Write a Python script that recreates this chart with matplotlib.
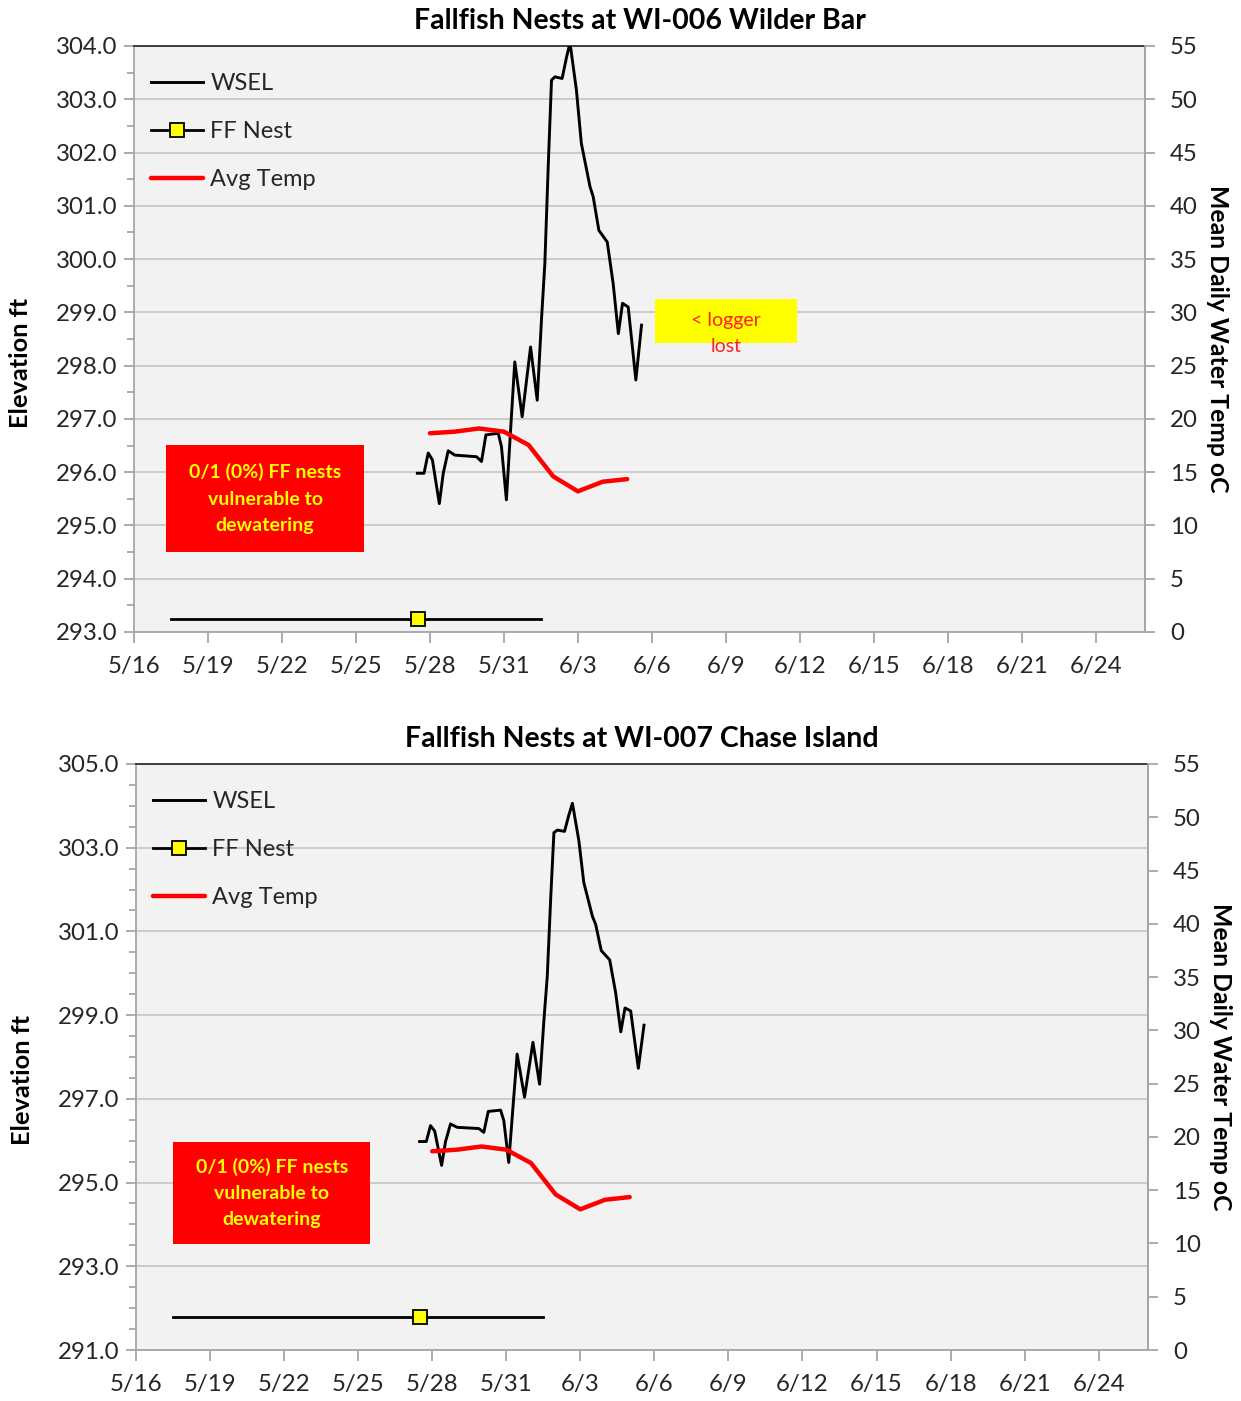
import matplotlib
matplotlib.use("Agg")
import matplotlib.pyplot as plt
from matplotlib.patches import Rectangle
from matplotlib.ticker import MultipleLocator, FormatStrFormatter

plt.rcParams['font.family'] = ['Lato', 'DejaVu Sans']

# x positions are days after 5/16
tick_days = [0, 3, 6, 9, 12, 15, 18, 21, 24, 27, 30, 33, 36, 39]
tick_labels = ["5/16", "5/19", "5/22", "5/25", "5/28", "5/31", "6/3",
               "6/6", "6/9", "6/12", "6/15", "6/18", "6/21", "6/24"]

# water surface elevation (ft)
wsel_day = [11.49, 11.76, 11.93, 12.10, 12.38, 12.54, 12.74, 13.01, 13.89,
            14.09, 14.27, 14.77, 14.90, 15.10, 15.27, 15.44, 15.74, 16.08,
            16.35, 16.53, 16.66, 16.80, 16.93, 17.07, 17.36, 17.54, 17.68,
            17.94, 18.14, 18.49, 18.62, 18.85, 19.19, 19.43, 19.64, 19.81,
            20.04, 20.35, 20.58]
wsel_ft = [295.98, 295.98, 296.36, 296.23, 295.41, 295.98, 296.40, 296.32,
           296.29, 296.20, 296.70, 296.73, 296.48, 295.48, 296.79, 298.07,
           297.04, 298.35, 297.35, 298.92, 299.92, 301.79, 303.36, 303.42,
           303.39, 303.79, 304.06, 303.17, 302.17, 301.36, 301.17, 300.54,
           300.32, 299.54, 298.60, 299.17, 299.10, 297.73, 298.76]

# mean daily water temperature (oC)
temp_day = [12, 13, 14, 15, 16, 17, 18, 19, 20]
temp_c = [18.65, 18.8, 19.1, 18.8, 17.55, 14.6, 13.2, 14.1, 14.35]

# fallfish nest period and elevation
nest_day = [1.5, 11.5, 16.5]
nest_elev_006 = 293.24
nest_elev_007 = 291.78

# left axis ticks per site
yticks_006 = [293.0, 294.0, 295.0, 296.0, 297.0, 298.0, 299.0, 300.0,
              301.0, 302.0, 303.0, 304.0]
yticks_007 = [291.0, 293.0, 295.0, 297.0, 299.0, 301.0, 303.0, 305.0]

box_text = "0/1 (0%) FF nests\nvulnerable to\ndewatering"

GRAY = "#a6a6a6"
TXT = "#262626"

fig = plt.figure(figsize=(12.41, 14.01), dpi=100)
ax1 = fig.add_axes([0.1080, 0.5489, 0.8147, 0.4183])
ax2 = fig.add_axes([0.1096, 0.0364, 0.8155, 0.4183])


def draw_panel(ax, title, yticks, nest_elev, red_box, label_y):
    ax.set_facecolor("#f2f2f2")
    ax.plot(wsel_day, wsel_ft, color="black", lw=2.1, label="WSEL", zorder=3,
            solid_joinstyle="round")
    ax.plot(nest_day, [nest_elev] * 3, color="black", lw=2.0, marker="s",
            markevery=[1], markersize=10, markerfacecolor="yellow",
            markeredgecolor="black", markeredgewidth=1.3, label="FF Nest", zorder=3)
    ax.set_xlim(0, 41)
    ax.set_ylim(yticks[0], yticks[-1])
    ax.set_xticks(tick_days)
    ax.set_xticklabels(tick_labels)
    ax.set_yticks(yticks)
    ax.yaxis.set_minor_locator(MultipleLocator(0.5))
    ax.yaxis.set_major_formatter(FormatStrFormatter("%.1f"))
    ax.grid(axis="y", which="major", color="#c8c8c8", lw=1.3)
    ax.set_axisbelow(True)
    ax.tick_params(axis="both", which="both", colors=GRAY, labelcolor=TXT,
                   labelsize=17.3, width=1.3)
    ax.tick_params(axis="y", which="major", length=7, pad=5)
    ax.tick_params(axis="y", which="minor", length=5)
    ax.tick_params(axis="x", length=8, pad=9)
    for s in ("left", "bottom", "right"):
        ax.spines[s].set_color(GRAY)
        ax.spines[s].set_linewidth(1.3)
    ax.spines["top"].set_color("#303030")
    ax.spines["top"].set_linewidth(1.3)
    ax.set_ylabel("Elevation ft", fontsize=18.3, fontweight="bold", color="black")
    ax.yaxis.set_label_coords(-0.101, label_y)
    ax.set_title(title, fontsize=20.5, fontweight="bold", color="black", pad=12)

    tw = ax.twinx()
    tw.plot(temp_day, temp_c, color="red", lw=3.2, label="Avg Temp",
            solid_capstyle="round", zorder=4)
    tw.set_ylim(0, 55)
    tw.yaxis.set_major_locator(MultipleLocator(5))
    tw.tick_params(axis="y", colors=GRAY, labelcolor=TXT, labelsize=17.3,
                   length=7, width=1.3, pad=11)
    for s in ("left", "bottom", "top"):
        tw.spines[s].set_visible(False)
    tw.spines["right"].set_color(GRAY)
    tw.spines["right"].set_linewidth(1.3)
    tw.set_ylabel("Mean Daily Water Temp oC", fontsize=17.8, fontweight="bold",
                  color="black", rotation=270, labelpad=22)
    tw.yaxis.set_label_coords(1.083, 0.5)

    h1, l1 = ax.get_legend_handles_labels()
    h2, l2 = tw.get_legend_handles_labels()
    tw.legend(h1 + h2, l1 + l2, loc="upper left", bbox_to_anchor=(-0.004, 0.99),
              frameon=False, fontsize=17, handlelength=2.2, handletextpad=0.3,
              labelspacing=1.15, borderaxespad=0.5, labelcolor=TXT)

    x0, y0, x1, y1 = red_box
    tw.add_patch(Rectangle((x0, y0), x1 - x0, y1 - y0, transform=tw.transAxes,
                           facecolor="red", edgecolor="none", zorder=5))
    tw.text((x0 + x1) / 2, (y0 + y1) / 2, box_text, transform=tw.transAxes,
            ha="center", va="center", color="#ffff00", fontsize=14,
            fontweight="bold", linespacing=1.65, zorder=6)
    return tw


tw1 = draw_panel(ax1, "Fallfish Nests at WI-006 Wilder Bar", yticks_006,
                 nest_elev_006, (0.0317, 0.1365, 0.2275, 0.319), 0.459)
draw_panel(ax2, "Fallfish Nests at WI-007 Chase Island", yticks_007,
           nest_elev_007, (0.0366, 0.1809, 0.2315, 0.355), 0.461)

# logger lost note (top panel only)
tw1.add_patch(Rectangle((0.5153, 0.4932), 0.1405, 0.0751, transform=tw1.transAxes,
                        facecolor="#ffff00", edgecolor="none", zorder=5))
tw1.text(0.5856, 0.5307, "< logger", transform=tw1.transAxes, ha="center",
         va="center", color="#ff2020", fontsize=14, zorder=6)
tw1.text(0.5856, 0.488, "lost", transform=tw1.transAxes, ha="center",
         va="center", color="#ff2020", fontsize=14, zorder=6)

fig.savefig("out.png", dpi=100)
